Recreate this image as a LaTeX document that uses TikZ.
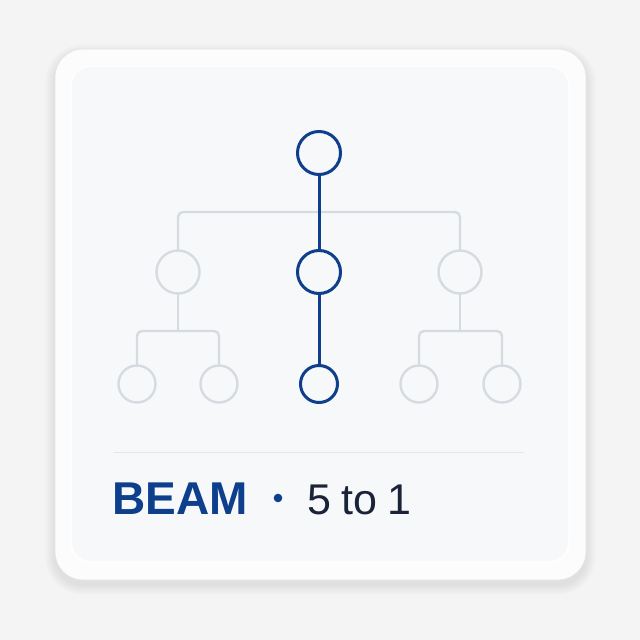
\documentclass[tikz,border=0pt]{standalone}
\usepackage{fontspec}
\setmainfont{Liberation Sans}
\definecolor{beamblue}{HTML}{0E3F8C}
\definecolor{ink}{HTML}{1B2338}
\definecolor{faint}{HTML}{D6DAE1}
\definecolor{rule}{HTML}{E3E5EA}
\definecolor{paper}{HTML}{F4F4F5}
\definecolor{card}{HTML}{FCFCFD}
\definecolor{panel}{HTML}{F7F8FA}

\begin{document}
\begin{tikzpicture}[
    x=1pt,y=-1pt,
    line join=round,line cap=round,
    kept/.style={circle,draw=beamblue,line width=3pt,fill=panel,
        inner sep=0pt,minimum size=43pt},
    keptleaf/.style={kept,minimum size=37pt},
    pruned/.style={circle,draw=faint,line width=2.4pt,fill=panel,
        inner sep=0pt,minimum size=43pt},
    prunedleaf/.style={pruned,minimum size=37pt},
    beam/.style={draw=beamblue,line width=3pt},
    faded/.style={draw=faint,line width=2.4pt,rounded corners=5pt}
  ]

    \useasboundingbox[fill=paper] (0,0) rectangle (640,640);

    % soft shadow, then card
    \foreach \i in {1,...,10}
        \fill[black,opacity=0.008,rounded corners={28pt+\i pt}]
            (55-\i,49-\i+5) rectangle (586+\i,580+\i+5);
    \fill[card,draw=rule,line width=0.8pt,rounded corners=28pt]
        (55,49) rectangle (586,580);
    \fill[panel,draw=white,line width=1.5pt,rounded corners=20pt]
        (71,66) rectangle (569,562);

    % nodes
    \node [kept]        (root) at (319,153) {};
    \node [pruned]      (ml)   at (178,272) {};
    \node [kept]        (mm)   at (319,272) {};
    \node [pruned]      (mr)   at (460,272) {};
    \node [prunedleaf]  (l1)   at (137,384) {};
    \node [prunedleaf]  (l2)   at (219,384) {};
    \node [keptleaf]    (l3)   at (319,384) {};
    \node [prunedleaf]  (l4)   at (419,384) {};
    \node [prunedleaf]  (l5)   at (502,384) {};

    \coordinate (bar)  at (319,212);
    \coordinate (lbar) at (178,331);
    \coordinate (rbar) at (460,331);

    % pruned branches
    \draw [faded] (ml.north) |- (bar) -| (mr.north);
    \draw [faded] (ml.south) -- (lbar);
    \draw [faded] (l1.north) |- (lbar) -| (l2.north);
    \draw [faded] (mr.south) -- (rbar);
    \draw [faded] (l4.north) |- (rbar) -| (l5.north);

    % surviving beam
    \draw [beam] (root) -- (mm);
    \draw [beam] (mm) -- (l3);

    % caption
    \draw [rule,line width=1pt] (114,452) -- (524,452);
    \node [anchor=base west,inner sep=0pt,text=beamblue,
        font=\fontsize{46}{46}\selectfont\bfseries] (name) at (112,514) {BEAM};
    \fill [beamblue] (278,498) circle (4.3pt) coordinate (dot);
    \node [anchor=base west,inner sep=0pt,text=ink,
        font=\fontsize{43}{43}\selectfont] (ratio) at (307,514)
        {5\kern-1.5pt\ to\kern-1.5pt\ 1};
\end{tikzpicture}
\end{document}
